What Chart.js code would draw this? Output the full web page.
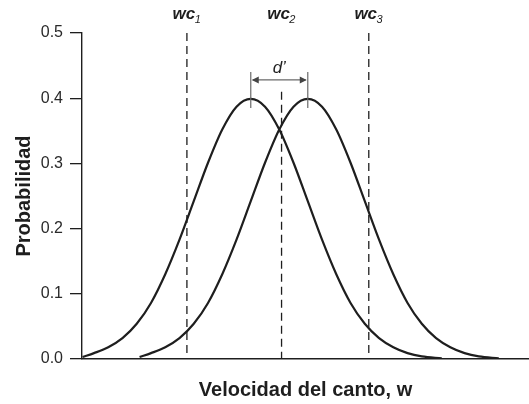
<!DOCTYPE html>
<html>
<head>
<meta charset="utf-8">
<script src="https://cdn.jsdelivr.net/npm/chart.js@4.4.0/dist/chart.umd.min.js"></script>
<style>
  html, body { margin: 0; padding: 0; background: #fff; }
  #wrap { width: 529px; height: 404px; }
</style>
</head>
<body>
<div id="wrap"><canvas id="chart"></canvas></div>
<script>
// w in units of one standard deviation, first curve centred on 0
const curve1X = [-2.95, -2.75, -2.5, -2.25, -2, -1.75, -1.5, -1.25, -1, -0.75, -0.5, -0.25, 0, 0.25, 0.5, 0.75, 1, 1.25, 1.5, 1.75, 2, 2.25, 2.5, 2.75, 3, 3.35];
const curve1Y = [0.003, 0.009, 0.018, 0.032, 0.054, 0.086, 0.130, 0.183, 0.242, 0.301, 0.352, 0.387, 0.399, 0.387, 0.352, 0.301, 0.242, 0.183, 0.130, 0.086, 0.054, 0.032, 0.018, 0.009, 0.004, 0.001];
const curve2X = [-1.95, -1.75, -1.5, -1.25, -1, -0.75, -0.5, -0.25, 0, 0.25, 0.5, 0.75, 1, 1.25, 1.5, 1.75, 2, 2.25, 2.5, 2.75, 3, 3.25, 3.5, 3.75, 4, 4.35];
const curve2Y = [0.003, 0.009, 0.018, 0.032, 0.054, 0.086, 0.130, 0.183, 0.242, 0.301, 0.352, 0.387, 0.399, 0.387, 0.352, 0.301, 0.242, 0.183, 0.130, 0.086, 0.054, 0.032, 0.018, 0.009, 0.004, 0.001];

// criterion lines wc1..wc3
const criteriaX = [-1.12, 0.54, 2.07];
const criteriaSub = ["1", "2", "3"];
const criteriaTop = [0.5, 0.41, 0.5];

// d' marker between the two peaks
const peakX = [0, 1];
const arrowY = 0.428;
const markTop = 0.44;
const markBottom = 0.385;

const yTicks = [0, 0.1, 0.2, 0.3, 0.4, 0.5];

const FONT = '"Liberation Sans", Arial, Helvetica, sans-serif';
const INK = '#1e1e1e';

function curve(xs, ys) {
  return {
    data: xs.map((x, i) => ({ x: x, y: ys[i] })),
    borderColor: INK,
    borderWidth: 2.2,
    pointRadius: 0,
    cubicInterpolationMode: 'monotone',
    fill: false
  };
}

const datasets = [curve(curve1X, curve1Y), curve(curve2X, curve2Y)];
criteriaX.forEach((cx, i) => {
  datasets.push({
    data: [{ x: cx, y: criteriaTop[i] }, { x: cx, y: 0 }],
    borderColor: INK,
    borderWidth: 1.3,
    borderDash: [8, 5],
    pointRadius: 0,
    fill: false
  });
});

const annotations = {
  id: 'annotations',
  afterDatasetsDraw(chart) {
    const ctx = chart.ctx;
    const x = chart.scales.x, y = chart.scales.y;
    ctx.save();
    ctx.fillStyle = INK;
    ctx.textAlign = 'left';
    ctx.textBaseline = 'alphabetic';
    criteriaX.forEach((cx, i) => {
      const px = x.getPixelForValue(cx);
      ctx.font = 'italic bold 17px ' + FONT;
      const w1 = ctx.measureText('wc').width;
      ctx.font = 'italic 11px ' + FONT;
      const w2 = ctx.measureText(criteriaSub[i]).width;
      const start = px - (w1 + w2) / 2;
      ctx.font = 'italic bold 17px ' + FONT;
      ctx.fillText('wc', start, 19);
      ctx.font = 'italic 11px ' + FONT;
      ctx.fillText(criteriaSub[i], start + w1 - 0.5, 23);
    });

    const xa = x.getPixelForValue(peakX[0]);
    const xb = x.getPixelForValue(peakX[1]);
    const ya = y.getPixelForValue(arrowY);
    const yt = y.getPixelForValue(markTop);
    const yb = y.getPixelForValue(markBottom);
    ctx.strokeStyle = '#6a6a6a';
    ctx.fillStyle = '#444';
    ctx.lineWidth = 1.2;
    ctx.beginPath();
    ctx.moveTo(xa, yt); ctx.lineTo(xa, yb);
    ctx.moveTo(xb, yt); ctx.lineTo(xb, yb);
    ctx.moveTo(xa + 2, ya); ctx.lineTo(xb - 2, ya);
    ctx.stroke();
    ctx.beginPath();
    ctx.moveTo(xa + 1, ya); ctx.lineTo(xa + 8, ya - 3.5); ctx.lineTo(xa + 8, ya + 3.5); ctx.closePath();
    ctx.moveTo(xb - 1, ya); ctx.lineTo(xb - 8, ya - 3.5); ctx.lineTo(xb - 8, ya + 3.5); ctx.closePath();
    ctx.fill();

    ctx.fillStyle = INK;
    ctx.font = 'italic 17px ' + FONT;
    ctx.textAlign = 'center';
    ctx.fillText('d\u2019', (xa + xb) / 2, 73);
    ctx.restore();
  }
};

new Chart(document.getElementById('chart'), {
  type: 'line',
  data: { datasets: datasets },
  options: {
    responsive: true,
    maintainAspectRatio: false,
    animation: false,
    layout: { padding: { top: 33, right: 0, bottom: 0, left: 0 } },
    plugins: {
      legend: { display: false },
      tooltip: { enabled: false }
    },
    scales: {
      x: {
        type: 'linear',
        min: -2.96,
        max: 4.88,
        grid: { display: false },
        border: { display: true, color: INK, width: 1.4 },
        ticks: { display: false },
        title: {
          display: true,
          text: 'Velocidad del canto, w',
          color: INK,
          font: { family: FONT, size: 20, weight: 'bold' },
          padding: { top: 0, bottom: 2 }
        },
        afterFit(scale) { scale.height = 45; }
      },
      y: {
        type: 'linear',
        min: 0,
        max: 0.5,
        afterBuildTicks(scale) { scale.ticks = yTicks.map(v => ({ value: v })); },
        grid: { drawOnChartArea: false, drawTicks: true, tickLength: 12, color: INK, lineWidth: 1.3 },
        border: { display: true, color: INK, width: 1.4 },
        ticks: {
          padding: 7,
          color: '#2a2a2a',
          font: { family: FONT, size: 16 },
          callback: v => Number(v).toFixed(1)
        },
        title: {
          display: true,
          text: 'Probabilidad',
          color: INK,
          font: { family: FONT, size: 20, weight: 'bold' },
          padding: { top: 12, bottom: 0 }
        },
        afterFit(scale) { scale.width = 82; }
      }
    }
  },
  plugins: [annotations]
});
</script>
</body>
</html>
